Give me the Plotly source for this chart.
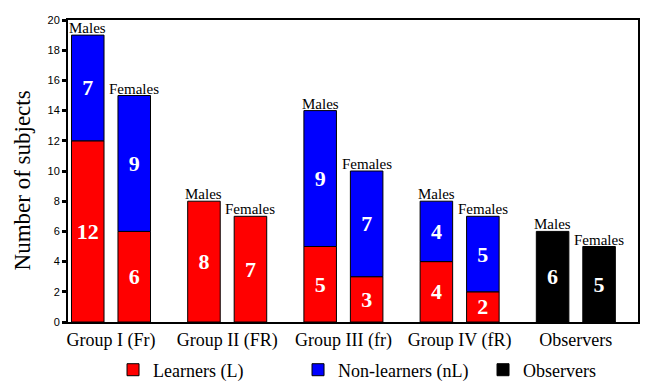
import plotly.graph_objects as go

groups = ["Group I (Fr)", "Group II (FR)", "Group III (fr)", "Group IV (fR)", "Observers"]
study_groups = groups[:4]
male_learners = [12, 8, 5, 4]
male_nonlearners = [7, None, 9, 4]
female_learners = [6, 7, 3, 2]
female_nonlearners = [9, None, 7, 5]
observers_group = ["Observers"]
observers_male = [6]
observers_female = [5]
y_ticks = list(range(0, 21, 2))

RED = "#ff0000"
BLUE = "#0000ff"
BLACK = "#000000"
SERIF = "Liberation Serif, Times New Roman, serif"
SANS = "Liberation Sans, Arial, sans-serif"
BARGAP = 0.2

def txt(vals):
    return [("" if v is None else str(v)) for v in vals]

def bar(x, y, color, name, og, show, base=None):
    return go.Bar(
        x=x, y=y, base=base, name=name, offsetgroup=og, legendgroup=name,
        showlegend=show, marker=dict(color=color, line=dict(color="black", width=1)),
        text=txt(y), textposition="inside", insidetextanchor="middle",
        textangle=0, constraintext="none",
        textfont=dict(family=SERIF, size=22, color="white", weight="bold"),
        hoverinfo="skip",
    )

fig = go.Figure()
fig.add_trace(bar(study_groups, male_learners, RED, "Learners (L)", "M", True))
fig.add_trace(bar(study_groups, male_nonlearners, BLUE, "Non-learners (nL)", "M", True, base=male_learners))
fig.add_trace(bar(study_groups, female_learners, RED, "Learners (L)", "F", False))
fig.add_trace(bar(study_groups, female_nonlearners, BLUE, "Non-learners (nL)", "F", False, base=female_learners))
fig.add_trace(bar(observers_group, observers_male, BLACK, "Observers", "M", True))
fig.add_trace(bar(observers_group, observers_female, BLACK, "Observers", "F", False))

male_tot = [a + (b or 0) for a, b in zip(male_learners, male_nonlearners)] + observers_male
female_tot = [a + (b or 0) for a, b in zip(female_learners, female_nonlearners)] + observers_female
off = (1 - BARGAP) / 4
anns = []
for i in range(len(groups)):
    anns.append(dict(x=i - off, y=male_tot[i], text="Males", showarrow=False, yanchor="bottom",
                     yshift=-3, font=dict(family=SERIF, size=15, color="black")))
    anns.append(dict(x=i + off, y=female_tot[i], text="Females", showarrow=False, yanchor="bottom",
                     yshift=-3, font=dict(family=SERIF, size=15, color="black")))
anns.append(dict(xref="paper", yref="paper", x=0, y=0.467, xanchor="right", yanchor="middle",
                 xshift=-31, textangle=-90, showarrow=False, text="Number of subjects",
                 font=dict(family=SERIF, size=23, color="black")))

# page body has an 8px margin, so the figure is sized to fit inside the window
fig.update_layout(
    width=656, height=380, barmode="group", bargap=BARGAP, bargroupgap=0.3,
    margin=dict(l=60, r=26, t=12, b=66, autoexpand=False),
    plot_bgcolor="white", paper_bgcolor="white",
    annotations=anns,
    legend=dict(orientation="h", x=0.079, y=-0.159, xanchor="left", yanchor="middle",
                font=dict(family=SERIF, size=18, color="black"),
                entrywidth=140, entrywidthmode="pixels", traceorder="normal"),
    xaxis=dict(type="category", categoryorder="array", categoryarray=groups,
               range=[-0.37, 4.535], showline=True, linecolor="black", linewidth=2, mirror=True,
               ticks="", tickfont=dict(family=SERIF, size=18, color="black"), showgrid=False),
    yaxis=dict(range=[0, 20], tickvals=y_ticks, showline=True, linecolor="black", linewidth=2,
               mirror=True, ticks="outside", ticklen=4, tickwidth=3, tickcolor="black",
               tickfont=dict(family=SANS, size=11, color="black"), showgrid=False, zeroline=False),
)

fig.write_html("out.html")
